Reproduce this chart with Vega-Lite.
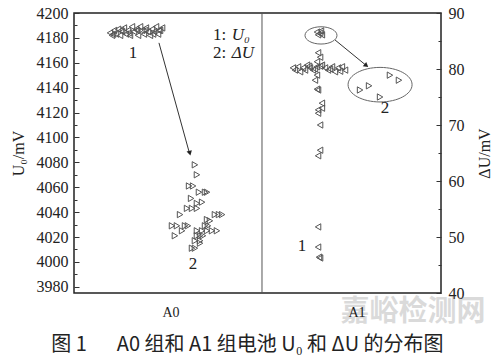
{
  "$schema": "https://vega.github.io/schema/vega-lite/v6.json",
  "width": 367,
  "height": 280,
  "autosize": {"type": "none"},
  "padding": {"left": 74, "top": 13, "right": 59, "bottom": 65},
  "background": "white",
  "config": {
    "view": {"stroke": "#222", "strokeWidth": 1.5},
    "axis": {
      "grid": false, "domain": false,
      "labelFont": "Liberation Serif", "labelFontSize": 16, "labelColor": "#222",
      "tickColor": "#333",
      "titleFont": "Liberation Serif", "titleFontSize": 16, "titleFontWeight": "normal", "titleColor": "#222"
    }
  },
  "datasets": {
    "u0": [
      {"x":0.196,"U0":4184,"g":"1"},{"x":0.207,"U0":4182,"g":"1"},{"x":0.213,"U0":4183,"g":"1"},{"x":0.218,"U0":4186,"g":"1"},
      {"x":0.229,"U0":4183,"g":"1"},{"x":0.240,"U0":4187,"g":"1"},{"x":0.251,"U0":4182,"g":"1"},{"x":0.256,"U0":4186,"g":"1"},
      {"x":0.262,"U0":4185,"g":"1"},{"x":0.272,"U0":4188,"g":"1"},{"x":0.283,"U0":4183,"g":"1"},{"x":0.294,"U0":4186,"g":"1"},
      {"x":0.300,"U0":4184,"g":"1"},{"x":0.305,"U0":4182,"g":"1"},{"x":0.316,"U0":4189,"g":"1"},{"x":0.327,"U0":4185,"g":"1"},
      {"x":0.338,"U0":4187,"g":"1"},{"x":0.343,"U0":4186,"g":"1"},{"x":0.349,"U0":4182,"g":"1"},{"x":0.360,"U0":4189,"g":"1"},
      {"x":0.371,"U0":4186,"g":"1"},{"x":0.381,"U0":4183,"g":"1"},{"x":0.387,"U0":4186,"g":"1"},{"x":0.392,"U0":4188,"g":"1"},
      {"x":0.403,"U0":4185,"g":"1"},{"x":0.414,"U0":4182,"g":"1"},{"x":0.425,"U0":4187,"g":"1"},{"x":0.431,"U0":4183,"g":"1"},
      {"x":0.436,"U0":4185,"g":"1"},{"x":0.447,"U0":4189,"g":"1"},{"x":0.458,"U0":4183,"g":"1"},{"x":0.463,"U0":4186,"g":"1"},
      {"x":0.469,"U0":4186,"g":"1"},{"x":0.480,"U0":4188,"g":"1"},
      {"x":0.659,"U0":4078,"g":"2"},{"x":0.670,"U0":4070,"g":"2"},{"x":0.627,"U0":4061,"g":"2"},{"x":0.649,"U0":4061,"g":"2"},
      {"x":0.681,"U0":4056,"g":"2"},{"x":0.714,"U0":4056,"g":"2"},{"x":0.725,"U0":4056,"g":"2"},{"x":0.638,"U0":4051,"g":"2"},
      {"x":0.670,"U0":4047,"g":"2"},{"x":0.698,"U0":4048,"g":"2"},{"x":0.616,"U0":4043,"g":"2"},{"x":0.643,"U0":4043,"g":"2"},
      {"x":0.670,"U0":4043,"g":"2"},{"x":0.578,"U0":4038,"g":"2"},{"x":0.768,"U0":4038,"g":"2"},{"x":0.790,"U0":4038,"g":"2"},
      {"x":0.807,"U0":4038,"g":"2"},{"x":0.725,"U0":4034,"g":"2"},{"x":0.534,"U0":4029,"g":"2"},{"x":0.561,"U0":4029,"g":"2"},
      {"x":0.605,"U0":4029,"g":"2"},{"x":0.621,"U0":4029,"g":"2"},{"x":0.714,"U0":4029,"g":"2"},{"x":0.730,"U0":4029,"g":"2"},
      {"x":0.589,"U0":4025,"g":"2"},{"x":0.670,"U0":4025,"g":"2"},{"x":0.698,"U0":4025,"g":"2"},{"x":0.725,"U0":4025,"g":"2"},
      {"x":0.752,"U0":4025,"g":"2"},{"x":0.779,"U0":4025,"g":"2"},{"x":0.550,"U0":4021,"g":"2"},{"x":0.670,"U0":4021,"g":"2"},
      {"x":0.687,"U0":4021,"g":"2"},{"x":0.703,"U0":4021,"g":"2"},{"x":0.659,"U0":4017,"g":"2"},{"x":0.687,"U0":4017,"g":"2"},
      {"x":0.687,"U0":4015,"g":"2"},{"x":0.643,"U0":4011,"g":"2"},{"x":0.659,"U0":4011,"g":"2"},{"x":0.741,"U0":4033,"g":"2"}
    ],
    "du": [
      {"x":1.324,"dU":86.6,"g":"1"},{"x":1.341,"dU":86.4,"g":"1"},{"x":1.351,"dU":86.1,"g":"1"},{"x":1.330,"dU":86.1,"g":"1"},{"x":1.346,"dU":86.8,"g":"1"},
      {"x":1.330,"dU":82.9,"g":"1"},{"x":1.341,"dU":82.1,"g":"1"},{"x":1.324,"dU":81.3,"g":"1"},
      {"x":1.204,"dU":79.8,"g":"1"},{"x":1.221,"dU":80.4,"g":"1"},{"x":1.232,"dU":79.5,"g":"1"},{"x":1.248,"dU":80.2,"g":"1"},
      {"x":1.270,"dU":80.7,"g":"1"},{"x":1.286,"dU":80.2,"g":"1"},{"x":1.302,"dU":79.8,"g":"1"},{"x":1.324,"dU":80.4,"g":"1"},
      {"x":1.351,"dU":80.7,"g":"1"},{"x":1.368,"dU":80.2,"g":"1"},{"x":1.384,"dU":79.8,"g":"1"},{"x":1.406,"dU":80.4,"g":"1"},
      {"x":1.422,"dU":79.5,"g":"1"},{"x":1.439,"dU":80.2,"g":"1"},{"x":1.460,"dU":80.4,"g":"1"},{"x":1.477,"dU":79.8,"g":"1"},
      {"x":1.259,"dU":79.8,"g":"1"},{"x":1.313,"dU":80.0,"g":"1"},{"x":1.341,"dU":80.5,"g":"1"},{"x":1.395,"dU":80.0,"g":"1"},
      {"x":1.450,"dU":79.6,"g":"1"},{"x":1.193,"dU":80.2,"g":"1"},{"x":1.281,"dU":80.5,"g":"1"},
      {"x":1.324,"dU":78.9,"g":"1"},{"x":1.313,"dU":78.0,"g":"1"},{"x":1.324,"dU":76.4,"g":"1"},{"x":1.330,"dU":76.25,"g":"1"},
      {"x":1.351,"dU":73.9,"g":"1"},{"x":1.330,"dU":72.7,"g":"1"},{"x":1.351,"dU":73.0,"g":"1"},{"x":1.330,"dU":72.1,"g":"1"},
      {"x":1.341,"dU":70.0,"g":"1"},{"x":1.341,"dU":65.5,"g":"1"},{"x":1.330,"dU":64.5,"g":"1"},{"x":1.330,"dU":51.8,"g":"1"},
      {"x":1.330,"dU":48.2,"g":"1"},{"x":1.341,"dU":46.25,"g":"1"},{"x":1.335,"dU":46.4,"g":"1"},
      {"x":1.722,"dU":78.9,"g":"2"},{"x":1.771,"dU":78.0,"g":"2"},{"x":1.608,"dU":77.0,"g":"2"},{"x":1.559,"dU":76.25,"g":"2"},{"x":1.668,"dU":75.0,"g":"2"}
    ],
    "notesL": [{"x":0.322,"U0":4168,"t":"1"},{"x":0.649,"U0":3998,"t":"2"}],
    "legNum": [{"x":0.757,"U0":4182,"t":"1:"},{"x":0.757,"U0":4168,"t":"2:"}],
    "legVar": [{"x":0.86,"U0":4182,"t":"U₀"},{"x":0.86,"U0":4168,"t":"ΔU"}],
    "groups": [{"x":0.529,"U0":3959,"t":"A0"},{"x":1.542,"U0":3959,"t":"A1"}],
    "caption": [{"x":0.945,"U0":3933,"t":"图 1\u2003\u2002A0 组和 A1 组电池 U₀ 和 ΔU 的分布图"}],
    "notesR": [{"x":1.695,"dU":73.0,"t":"2"},{"x":1.243,"dU":48.4,"t":"1"}],
    "arrL": [{"x":0.463,"U0":4176,"x2":0.628,"U02":4088}],
    "headL": [{"x":0.630,"U0":4088}],
    "arrR": [{"x":1.422,"dU":85.2,"x2":1.590,"dU2":80.7}],
    "headR": [{"x":1.590,"dU":80.7}],
    "ell": [{"x":1.346,"dU":86.0,"k":"small"},{"x":1.668,"dU":77.2,"k":"big"}],
    "mark": [{"x":1.847,"dU":36.6,"t":"嘉峪检测网"}]
  },
  "layer": [
    {
      "data": {"name": "u0"},
      "mark": {"type": "point", "filled": false, "stroke": "#555", "strokeWidth": 1, "size": 40, "opacity": 1},
      "encoding": {
        "x": {"field": "x", "type": "quantitative", "scale": {"domain": [0, 2], "nice": false, "zero": false}, "axis": null},
        "y": {"field": "U0", "type": "quantitative", "scale": {"domain": [3975, 4200], "nice": false, "zero": false},
              "axis": {"orient": "left", "title": "U₀/mV", "titlePadding": 10, "format": "d",
                       "values": [3980,3990,4000,4010,4020,4030,4040,4050,4060,4070,4080,4090,4100,4110,4120,4130,4140,4150,4160,4170,4180,4190,4200],
                       "labelExpr": "datum.value % 20 === 0 ? datum.label : ''",
                       "tickSize": {"condition": {"test": "datum.value % 20 === 0", "value": -5}, "value": -3},
                       "labelPadding": 11}},
        "shape": {"field": "g", "type": "nominal", "scale": {"domain": ["1", "2"], "range": ["triangle-left", "triangle-right"]}, "legend": null}
      }
    },
    {
      "data": {"name": "du"},
      "mark": {"type": "point", "filled": false, "stroke": "#555", "strokeWidth": 1, "size": 40, "opacity": 1},
      "encoding": {
        "x": {"field": "x", "type": "quantitative", "scale": {"domain": [0, 2], "nice": false, "zero": false}, "axis": null},
        "y": {"field": "dU", "type": "quantitative", "scale": {"domain": [40, 90], "nice": false, "zero": false},
              "axis": {"orient": "right", "title": "ΔU/mV", "titleAngle": 270, "titleBaseline": "top", "titlePadding": 12,
                       "values": [40,45,50,55,60,65,70,75,80,85,90],
                       "labelExpr": "datum.value % 10 === 0 ? datum.label : ''",
                       "tickSize": {"condition": {"test": "datum.value % 10 === 0", "value": -5}, "value": -3},
                       "labelPadding": 12}},
        "shape": {"field": "g", "type": "nominal", "scale": {"domain": ["1", "2"], "range": ["triangle-left", "triangle-right"]}, "legend": null}
      }
    },
    {
      "data": {"values": [{"x": 1.0245}]},
      "mark": {"type": "rule", "color": "#555", "strokeWidth": 1},
      "encoding": {"x": {"field": "x", "type": "quantitative", "scale": {"domain": [0, 2], "nice": false, "zero": false}, "axis": null}}
    },
    {
      "data": {"name": "arrL"},
      "mark": {"type": "rule", "color": "#333", "strokeWidth": 1},
      "encoding": {
        "x": {"field": "x", "type": "quantitative", "scale": {"domain": [0, 2], "nice": false, "zero": false}, "axis": null},
        "y": {"field": "U0", "type": "quantitative", "scale": {"domain": [3975, 4200], "nice": false, "zero": false}, "axis": null},
        "x2": {"field": "x2"}, "y2": {"field": "U02"}
      }
    },
    {
      "data": {"name": "headL"},
      "mark": {"type": "point", "shape": "triangle", "filled": true, "color": "#222", "size": 30, "angle": 165, "opacity": 1},
      "encoding": {
        "x": {"field": "x", "type": "quantitative", "scale": {"domain": [0, 2], "nice": false, "zero": false}, "axis": null},
        "y": {"field": "U0", "type": "quantitative", "scale": {"domain": [3975, 4200], "nice": false, "zero": false}, "axis": null}
      }
    },
    {
      "data": {"name": "notesL"},
      "mark": {"type": "text", "font": "Liberation Serif", "fontSize": 17, "color": "#222", "baseline": "middle"},
      "encoding": {
        "x": {"field": "x", "type": "quantitative", "scale": {"domain": [0, 2], "nice": false, "zero": false}, "axis": null},
        "y": {"field": "U0", "type": "quantitative", "scale": {"domain": [3975, 4200], "nice": false, "zero": false}, "axis": null},
        "text": {"field": "t"}
      }
    },
    {
      "data": {"name": "legNum"},
      "mark": {"type": "text", "font": "Liberation Serif", "fontSize": 17, "color": "#222", "baseline": "middle", "align": "left"},
      "encoding": {
        "x": {"field": "x", "type": "quantitative", "scale": {"domain": [0, 2], "nice": false, "zero": false}, "axis": null},
        "y": {"field": "U0", "type": "quantitative", "scale": {"domain": [3975, 4200], "nice": false, "zero": false}, "axis": null},
        "text": {"field": "t"}
      }
    },
    {
      "data": {"name": "legVar"},
      "mark": {"type": "text", "font": "Liberation Serif", "fontSize": 17, "fontStyle": "italic", "color": "#222", "baseline": "middle", "align": "left"},
      "encoding": {
        "x": {"field": "x", "type": "quantitative", "scale": {"domain": [0, 2], "nice": false, "zero": false}, "axis": null},
        "y": {"field": "U0", "type": "quantitative", "scale": {"domain": [3975, 4200], "nice": false, "zero": false}, "axis": null},
        "text": {"field": "t"}
      }
    },
    {
      "data": {"name": "caption"},
      "mark": {"type": "text", "font": "Noto Sans CJK SC", "fontSize": 20, "color": "#222", "baseline": "middle"},
      "encoding": {
        "x": {"field": "x", "type": "quantitative", "scale": {"domain": [0, 2], "nice": false, "zero": false}, "axis": null},
        "y": {"field": "U0", "type": "quantitative", "scale": {"domain": [3975, 4200], "nice": false, "zero": false}, "axis": null},
        "text": {"field": "t"}
      }
    },
    {
      "data": {"name": "arrR"},
      "mark": {"type": "rule", "color": "#333", "strokeWidth": 1},
      "encoding": {
        "x": {"field": "x", "type": "quantitative", "scale": {"domain": [0, 2], "nice": false, "zero": false}, "axis": null},
        "y": {"field": "dU", "type": "quantitative", "scale": {"domain": [40, 90], "nice": false, "zero": false}, "axis": null},
        "x2": {"field": "x2"}, "y2": {"field": "dU2"}
      }
    },
    {
      "data": {"name": "headR"},
      "mark": {"type": "point", "shape": "triangle", "filled": true, "color": "#222", "size": 30, "angle": 129, "opacity": 1},
      "encoding": {
        "x": {"field": "x", "type": "quantitative", "scale": {"domain": [0, 2], "nice": false, "zero": false}, "axis": null},
        "y": {"field": "dU", "type": "quantitative", "scale": {"domain": [40, 90], "nice": false, "zero": false}, "axis": null}
      }
    },
    {
      "data": {"name": "ell"},
      "transform": [{"filter": "datum.k === 'small'"}],
      "mark": {"type": "point", "shape": "M -1 0 A 1 0.54 0 1 0 1 0 A 1 0.54 0 1 0 -1 0 Z", "filled": false, "stroke": "#666", "strokeWidth": 1, "size": 1024, "opacity": 1},
      "encoding": {
        "x": {"field": "x", "type": "quantitative", "scale": {"domain": [0, 2], "nice": false, "zero": false}, "axis": null},
        "y": {"field": "dU", "type": "quantitative", "scale": {"domain": [40, 90], "nice": false, "zero": false}, "axis": null}
      }
    },
    {
      "data": {"name": "ell"},
      "transform": [{"filter": "datum.k === 'big'"}],
      "mark": {"type": "point", "shape": "M -1 0 A 1 0.54 0 1 0 1 0 A 1 0.54 0 1 0 -1 0 Z", "filled": false, "stroke": "#666", "strokeWidth": 1, "size": 4096, "opacity": 1},
      "encoding": {
        "x": {"field": "x", "type": "quantitative", "scale": {"domain": [0, 2], "nice": false, "zero": false}, "axis": null},
        "y": {"field": "dU", "type": "quantitative", "scale": {"domain": [40, 90], "nice": false, "zero": false}, "axis": null}
      }
    },
    {
      "data": {"name": "notesR"},
      "mark": {"type": "text", "font": "Liberation Serif", "fontSize": 17, "color": "#222", "baseline": "middle"},
      "encoding": {
        "x": {"field": "x", "type": "quantitative", "scale": {"domain": [0, 2], "nice": false, "zero": false}, "axis": null},
        "y": {"field": "dU", "type": "quantitative", "scale": {"domain": [40, 90], "nice": false, "zero": false}, "axis": null},
        "text": {"field": "t"}
      }
    },
    {
      "data": {"name": "mark"},
      "mark": {"type": "text", "font": "Noto Sans CJK SC", "fontSize": 29, "fontWeight": "bold", "color": "#888", "opacity": 0.3, "baseline": "middle"},
      "encoding": {
        "x": {"field": "x", "type": "quantitative", "scale": {"domain": [0, 2], "nice": false, "zero": false}, "axis": null},
        "y": {"field": "dU", "type": "quantitative", "scale": {"domain": [40, 90], "nice": false, "zero": false}, "axis": null},
        "text": {"field": "t"}
      }
    },
    {
      "data": {"name": "groups"},
      "mark": {"type": "text", "font": "Liberation Serif", "fontSize": 14, "color": "#222", "baseline": "middle"},
      "encoding": {
        "x": {"field": "x", "type": "quantitative", "scale": {"domain": [0, 2], "nice": false, "zero": false}, "axis": null},
        "y": {"field": "U0", "type": "quantitative", "scale": {"domain": [3975, 4200], "nice": false, "zero": false}, "axis": null},
        "text": {"field": "t"}
      }
    }
  ],
  "resolve": {"scale": {"y": "independent"}}
}
